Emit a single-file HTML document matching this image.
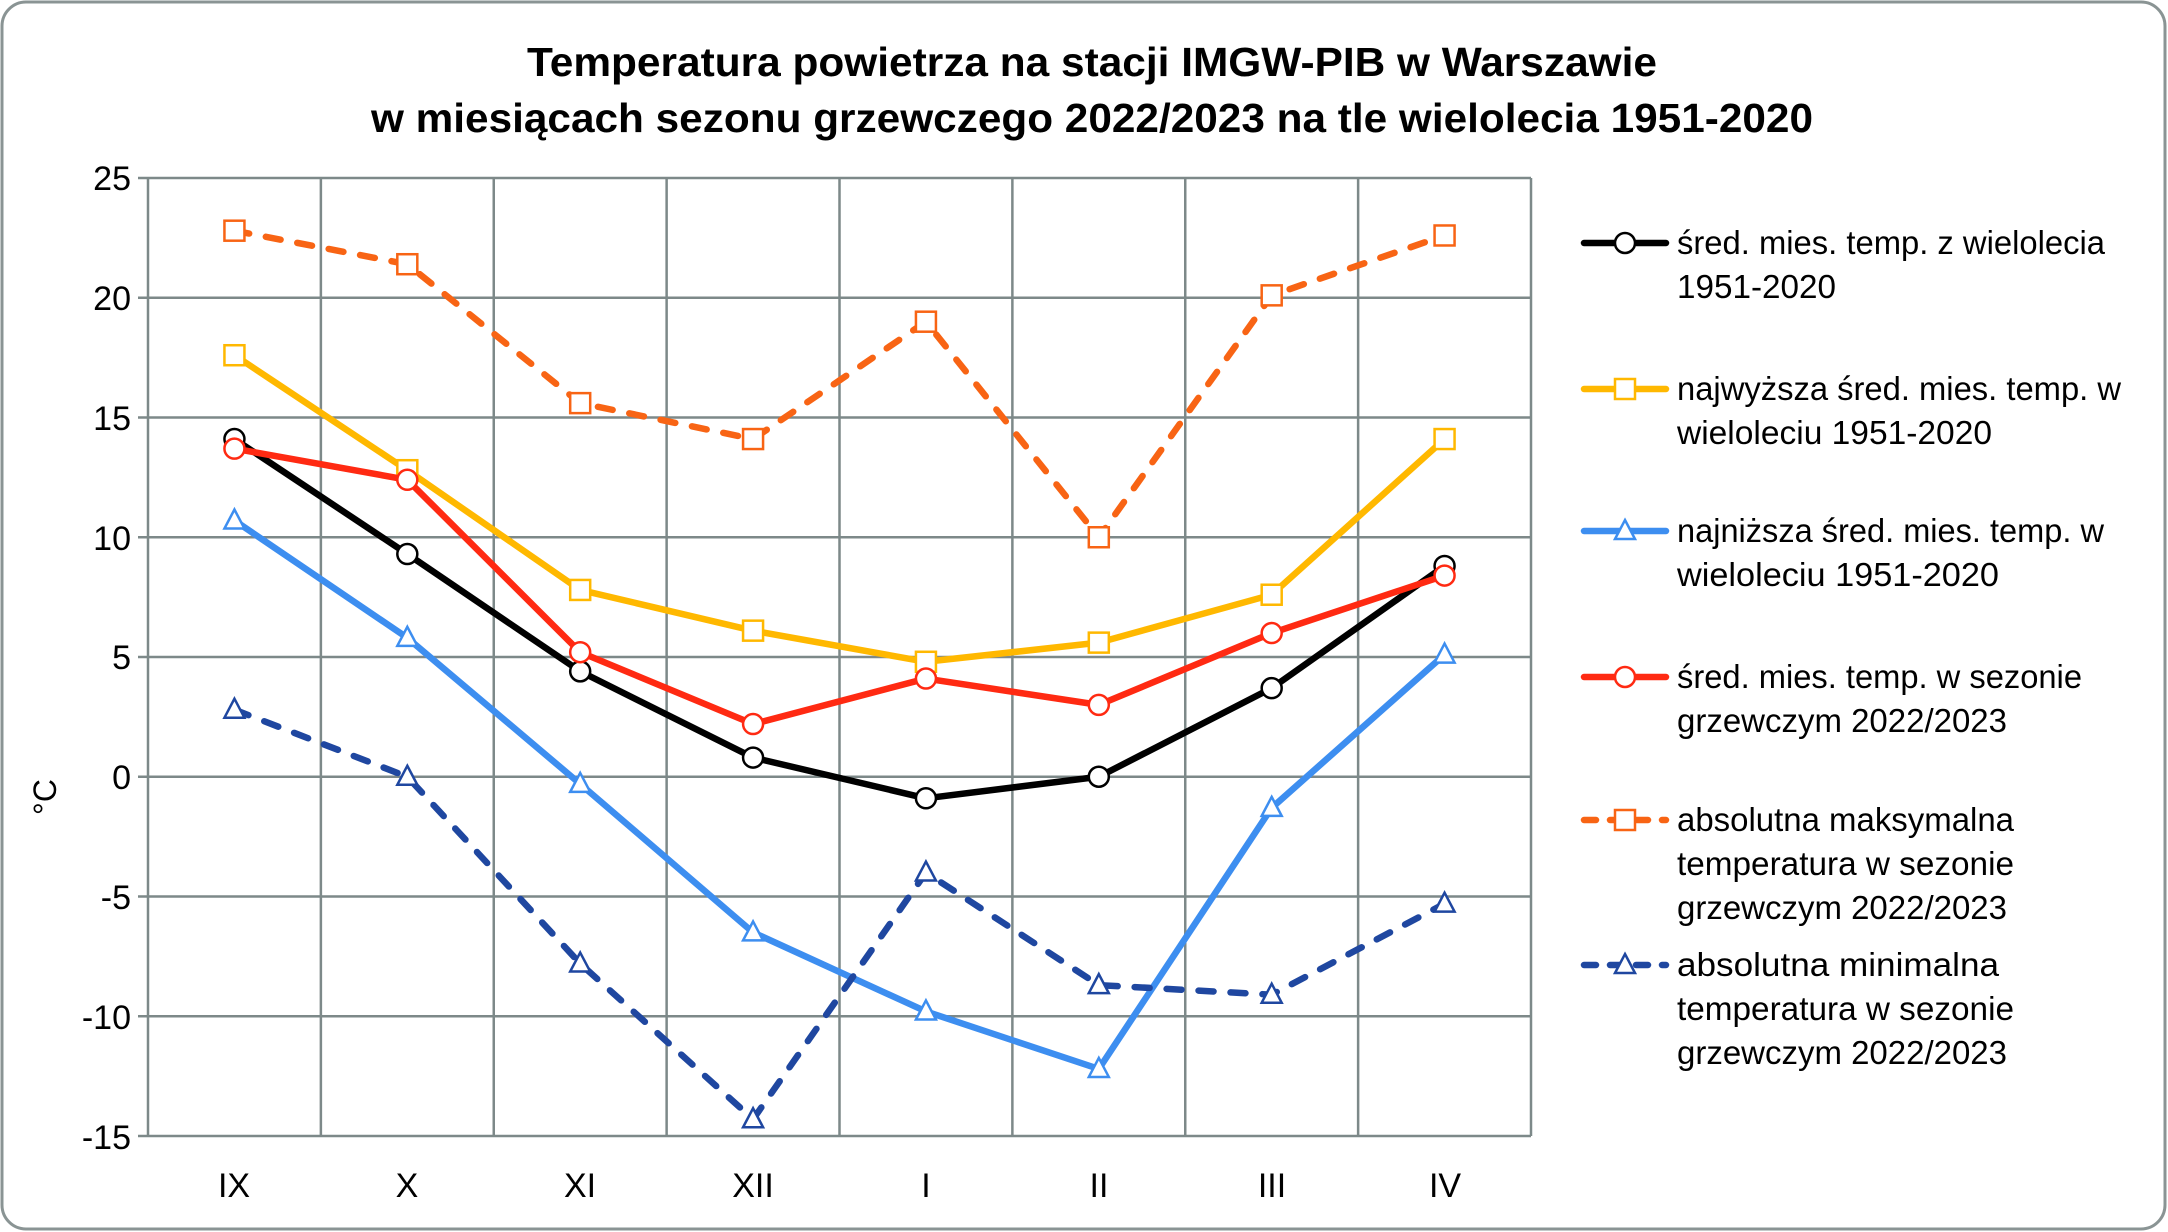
<!DOCTYPE html>
<html><head><meta charset="utf-8"><style>
html,body{margin:0;padding:0;background:#fff;}
svg{display:block;}
text{font-family:"Liberation Sans",sans-serif;fill:#000;}
</style></head><body>
<svg id="s" width="2168" height="1232" viewBox="0 0 2168 1232" xmlns="http://www.w3.org/2000/svg">
<rect x="2" y="2" width="2163" height="1227" rx="24" fill="#fff" stroke="#8a9494" stroke-width="3"/>
<text x="1092" y="76" font-size="41" font-weight="bold" text-anchor="middle" textLength="1130" lengthAdjust="spacingAndGlyphs">Temperatura powietrza na stacji IMGW-PIB w Warszawie</text>
<text x="1092" y="132" font-size="41" font-weight="bold" text-anchor="middle" textLength="1442" lengthAdjust="spacingAndGlyphs">w miesiącach sezonu grzewczego 2022/2023 na tle wielolecia 1951-2020</text>
<g id="grid" stroke="#7d8989" stroke-width="2.5" fill="none"></g>
<g font-size="34" text-anchor="end">
<text x="131" y="190">25</text><text x="131" y="310">20</text><text x="131" y="430">15</text><text x="131" y="550">10</text><text x="131" y="669">5</text><text x="131" y="789">0</text><text x="131" y="909">-5</text><text x="131" y="1029">-10</text><text x="131" y="1149">-15</text>
</g>
<text x="0" y="0" font-size="32" transform="translate(56,797) rotate(-90)" text-anchor="middle">°C</text>
<g font-size="34" text-anchor="middle">
<text x="234" y="1197">IX</text><text x="407" y="1197">X</text><text x="580" y="1197">XI</text><text x="753" y="1197">XII</text><text x="926" y="1197">I</text><text x="1099" y="1197">II</text><text x="1272" y="1197">III</text><text x="1445" y="1197">IV</text>
</g>
<g id="series"></g>
<g font-size="33">
<text x="1677" y="254" textLength="428" lengthAdjust="spacingAndGlyphs">śred. mies. temp. z wielolecia</text>
<text x="1677" y="298" textLength="159" lengthAdjust="spacingAndGlyphs">1951-2020</text>
<text x="1677" y="400" textLength="444" lengthAdjust="spacingAndGlyphs">najwyższa śred. mies. temp. w</text>
<text x="1677" y="444" textLength="315" lengthAdjust="spacingAndGlyphs">wieloleciu 1951-2020</text>
<text x="1677" y="542" textLength="427" lengthAdjust="spacingAndGlyphs">najniższa śred. mies. temp. w</text>
<text x="1677" y="586" textLength="322" lengthAdjust="spacingAndGlyphs">wieloleciu  1951-2020</text>
<text x="1677" y="688" textLength="405" lengthAdjust="spacingAndGlyphs">śred. mies. temp. w sezonie</text>
<text x="1677" y="732" textLength="330" lengthAdjust="spacingAndGlyphs">grzewczym 2022/2023</text>
<text x="1677" y="831" textLength="337" lengthAdjust="spacingAndGlyphs">absolutna maksymalna</text>
<text x="1677" y="875" textLength="337" lengthAdjust="spacingAndGlyphs">temperatura w sezonie</text>
<text x="1677" y="919" textLength="330" lengthAdjust="spacingAndGlyphs">grzewczym 2022/2023</text>
<text x="1677" y="976" textLength="322" lengthAdjust="spacingAndGlyphs">absolutna minimalna</text>
<text x="1677" y="1020" textLength="337" lengthAdjust="spacingAndGlyphs">temperatura w sezonie</text>
<text x="1677" y="1064" textLength="330" lengthAdjust="spacingAndGlyphs">grzewczym 2022/2023</text>
</g>
<g id="legend"></g>
</svg>
<script>
var NS="http://www.w3.org/2000/svg";
function el(p,t,a){var e=document.createElementNS(NS,t);for(var k in a)e.setAttribute(k,a[k]);p.appendChild(e);return e;}
var L=148,R=1531,T=178,B=1136;
function Y(v){return T+(25-v)*(B-T)/40;}
function X(i){return L+(i+0.5)*(R-L)/8;}
var g=document.getElementById('grid');
for(var v=25;v>=-15;v-=5){el(g,'line',{x1:L-10,x2:R,y1:Y(v),y2:Y(v)});}
for(var i=0;i<=8;i++){var x=L+i*(R-L)/8;el(g,'line',{x1:x,x2:x,y1:T,y2:B});}
var S=[
{c:"#000000",m:"o",d:0,v:[14.1,9.3,4.4,0.8,-0.9,0.0,3.7,8.8]},
{c:"#FFB800",m:"s",d:0,v:[17.6,12.8,7.8,6.1,4.8,5.6,7.6,14.1]},
{c:"#3D8EF0",m:"t",d:0,v:[10.7,5.8,-0.3,-6.5,-9.8,-12.2,-1.3,5.1]},
{c:"#FF2A12",m:"o",d:0,v:[13.7,12.4,5.2,2.2,4.1,3.0,6.0,8.4]},
{c:"#F86414",m:"s",d:1,v:[22.8,21.4,15.6,14.1,19.0,10.0,20.1,22.6]},
{c:"#1F47A0",m:"t",d:1,v:[2.8,0.0,-7.8,-14.3,-4.0,-8.7,-9.1,-5.3]}];
function marker(p,m,x,y,c){
 if(m=="o")el(p,'circle',{cx:x,cy:y,r:10,fill:"#fff",stroke:c,"stroke-width":2.5});
 else if(m=="s")el(p,'rect',{x:x-10,y:y-10,width:20,height:20,fill:"#fff",stroke:c,"stroke-width":2.5});
 else el(p,'polygon',{points:(x)+","+(y-11)+" "+(x+10)+","+(y+8)+" "+(x-10)+","+(y+8),fill:"#fff",stroke:c,"stroke-width":2.5});
}
var sg=document.getElementById('series'),lg=document.getElementById('legend');
var ly=[243,389,531,677,820,965];
S.forEach(function(s,k){
 var pts=s.v.map(function(v,i){return X(i)+","+Y(v);}).join(" ");
 var a={points:pts,fill:"none",stroke:s.c,"stroke-width":6.5,"stroke-linejoin":"round","stroke-linecap":"round"};
 if(s.d)a["stroke-dasharray"]="15 17";
 el(sg,'polyline',a);
 s.v.forEach(function(v,i){marker(sg,s.m,X(i),Y(v),s.c);});
 var b={x1:1584,x2:1666,y1:ly[k],y2:ly[k],stroke:s.c,"stroke-width":6.5,"stroke-linecap":"round"};
 if(s.d)b["stroke-dasharray"]="12 14";
 el(lg,'line',b);
 marker(lg,s.m,1625,ly[k],s.c);
});
</script>
</body></html>
